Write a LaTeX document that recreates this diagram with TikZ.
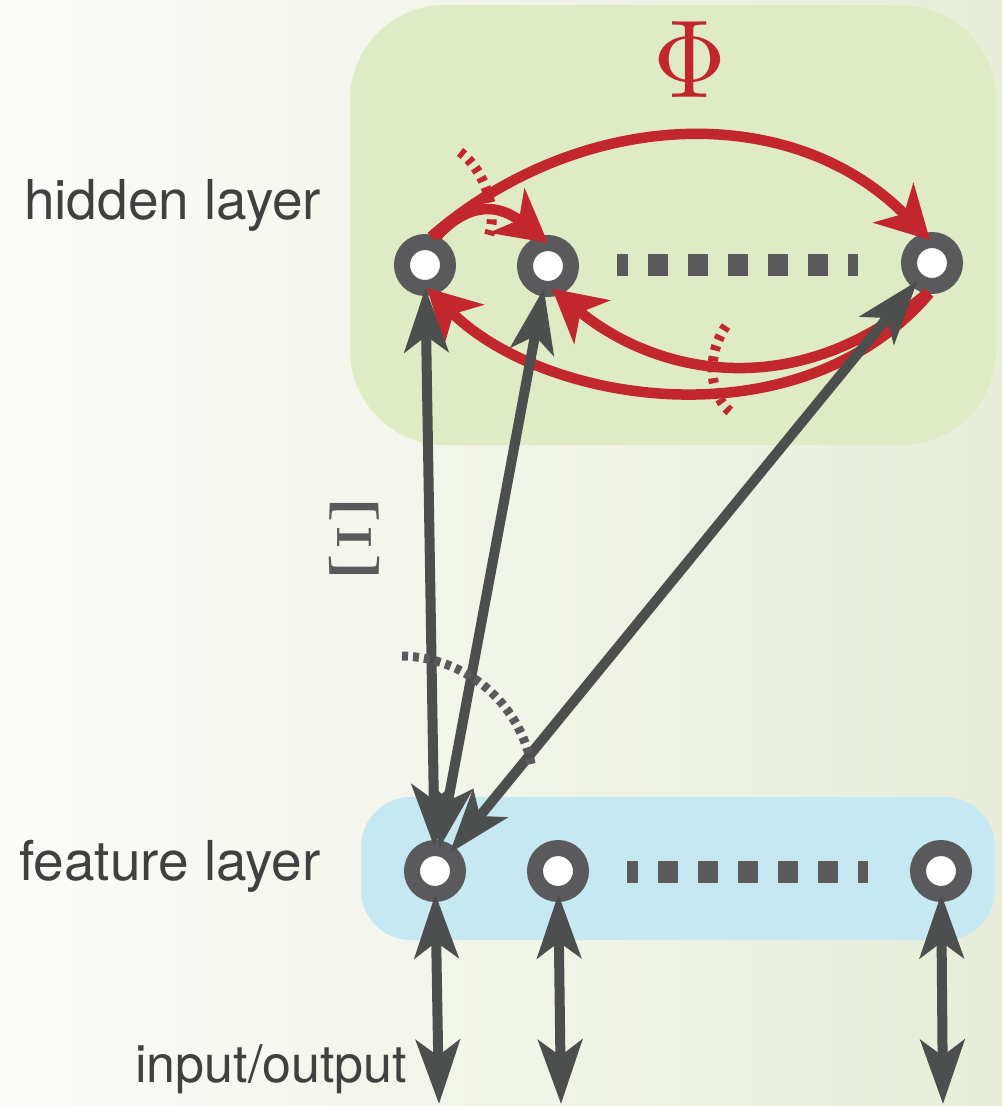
\documentclass[tikz,border=0pt]{standalone}
\usepackage{fontspec}
\setsansfont{TeX Gyre Heros}
\usepackage{graphicx}
\usetikzlibrary{arrows.meta}

\definecolor{ringgrey}{HTML}{5A5A5D}
\definecolor{linegrey}{HTML}{4D4E4E}
\definecolor{labelgrey}{HTML}{404040}
\definecolor{phired}{HTML}{C1272D}
\definecolor{hiddengreen}{HTML}{DFEBC4}
\definecolor{featureblue}{HTML}{C6E8F2}
\definecolor{bgleft}{HTML}{FBFBF9}
\definecolor{bgright}{HTML}{E7EDD8}

\tikzset{
  greytip/.tip={Stealth[length=64pt, width=44pt, inset=16pt]},
  redtip/.tip={Stealth[length=52pt, width=56pt, inset=15pt]}
}

\begin{document}
\begin{tikzpicture}[x=1pt, y=-1pt,
  unit/.style={circle, draw=ringgrey, line width=16pt, fill=white,
    minimum size=46pt, inner sep=0pt, outer sep=0pt},
  link/.style={draw=linegrey, line width=10pt, greytip-greytip},
  redarc/.style={draw=phired, line width=10.5pt, -redtip},
  ellipsis/.style={ringgrey, line width=22pt, dash pattern=on 20pt off 20pt, dash phase=9pt},
  reddots/.style={draw=phired, line width=10pt, dash pattern=on 5pt off 6pt},
  greydots/.style={draw=ringgrey, line width=9pt, dash pattern=on 6pt off 5pt},
  layertext/.style={anchor=base west, inner sep=0pt, text=labelgrey,
    font=\fontsize{55}{60}\selectfont\sffamily}
]
% canvas and background
\path[use as bounding box] (0,0) rectangle (1002,1106);
\shade[left color=bgleft, right color=bgright] (0,0) rectangle (1002,1106);

% layer panels
\fill[hiddengreen, rounded corners=95pt] (350,5) rectangle (996,445);
\fill[featureblue, rounded corners=50pt] (361,797) rectangle (995,940);

% "more units" ellipses
\draw[ellipsis] (617,265) -- (858,265);
\draw[ellipsis] (627,872) -- (868,872);

% units
\node[unit] (h1) at (425,265) {};
\node[unit] (h2) at (548,266) {};
\node[unit] (h3) at (932,263) {};
\node[unit] (f1) at (435,871) {};
\node[unit] (f2) at (558,871) {};
\node[unit] (f3) at (941,871) {};

% free ends of the input/output arrows
\coordinate (o1) at (439,1104);
\coordinate (o2) at (561,1104);
\coordinate (o3) at (943,1104);

% recurrent hidden-to-hidden connections (Phi)
\draw[redarc, shorten <=8pt] (h1.north) .. controls (578,109) and (790,98) .. (h3.95);
\draw[redarc, shorten <=8pt] (h1.75) .. controls (470,200) and (500,205) .. (h2.north);
\draw[redarc, shorten <=10pt] (h3.-80) .. controls (800,445) and (545,405) .. (h1.-85);
\draw[redarc, shorten <=10pt] (h3.-80) .. controls (790,410) and (650,370) .. (h2.-80);

% hidden-to-feature connections (Xi)
\draw[link] (h1) -- (f1);
\draw[link] (h2) -- (f1);
\draw[link] (h3) -- (f1);

% input/output connections
\draw[link] (f1) -- (o1);
\draw[link] (f2) -- (o2);
\draw[link] (f3) -- (o3);

% fan markers
\draw[reddots] (460,152) .. controls (485,170) and (500,215) .. (487,240);
\draw[reddots] (726,326) .. controls (706,355) and (708,396) .. (733,414);
\draw[greydots] (402,656) arc[start angle=-89, end angle=-11, radius=134];

% symbols
\node[inner sep=0pt, text=phired, font=\fontsize{10}{12}\selectfont] (phi) at (690,60)
  {\scalebox{10.1}[11.1]{$\Phi$}};
\node[inner sep=0pt, text=ringgrey, font=\fontsize{10}{12}\selectfont] (xi) at (354,539)
  {\scalebox{8.7}[10.5]{$\Xi$}};

% layer labels
\node[layertext] (lh) at (24,219) {hidden layer};
\node[layertext] (lf) at (19,880) {feature layer};
\node[layertext, font=\fontsize{52}{58}\selectfont\sffamily] (lio) at (135,1082) {input/output};
\end{tikzpicture}
\end{document}
